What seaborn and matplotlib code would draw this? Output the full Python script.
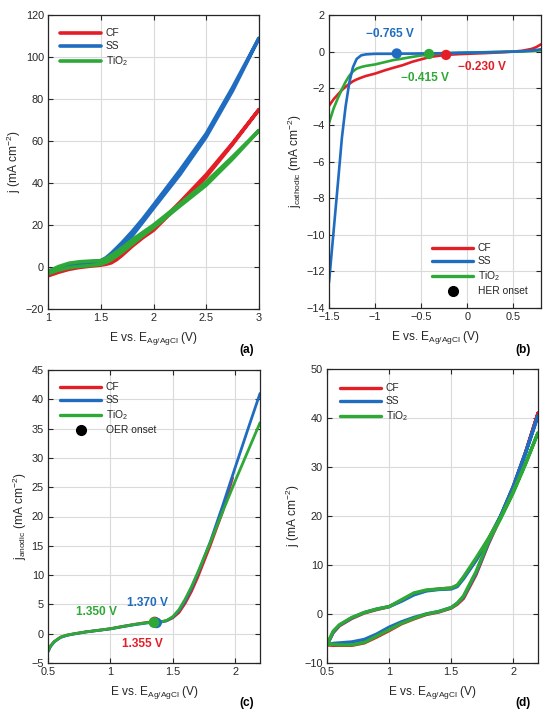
import matplotlib
matplotlib.use("Agg")
import matplotlib.pyplot as plt
import matplotlib.ticker as mticker
from matplotlib.lines import Line2D
import seaborn as sns

# ---------------- data ----------------
series = ["CF", "SS", "TiO$_2$"]
colors = {"CF": "#e31e26", "SS": "#1f6cc0", "TiO2": "#2ea836"}

# (a) CV loops, 1.0 - 3.0 V
xa = [1.0, 1.1, 1.2, 1.3, 1.4, 1.5, 1.55, 1.6, 1.65, 1.7, 1.8, 1.9, 2.0, 2.25, 2.5, 2.75, 3.0]
cf_a_fwd = [-4.2, -2.5, -1.1, -0.2, 0.4, 0.9, 1.3, 2.0, 3.5, 5.5, 10.0, 14.0, 17.5, 30.0, 43.0, 58.5, 75.0]
cf_a_rev = [-3.5, -1.8, -0.4, 0.4, 0.8, 1.3, 2.0, 3.0, 4.6, 6.5, 10.8, 14.8, 18.3, 30.8, 44.0, 59.0, 75.0]
ss_a_fwd = [-2.8, -1.3, 0.0, 0.8, 1.4, 2.2, 3.0, 4.5, 6.6, 9.0, 15.0, 21.5, 28.0, 44.0, 62.0, 84.0, 109.0]
ss_a_rev = [-2.0, -0.3, 1.2, 2.0, 2.5, 3.0, 4.4, 6.5, 9.0, 11.5, 17.0, 23.0, 29.5, 46.0, 63.5, 85.5, 109.0]
ti_a_fwd = [-3.2, -1.5, -0.3, 0.3, 0.7, 1.3, 2.2, 3.5, 5.2, 7.0, 11.0, 15.0, 18.8, 29.0, 39.0, 51.5, 65.0]
ti_a_rev = [-2.2, 0.2, 1.8, 2.5, 2.8, 3.0, 4.0, 5.5, 7.2, 9.0, 13.0, 16.5, 20.0, 30.0, 40.5, 52.5, 65.0]

# (b) cathodic LSV, -1.5 - 0.8 V
xb = [-1.5, -1.45, -1.4, -1.36, -1.32, -1.28, -1.24, -1.2, -1.15, -1.1, -1.0, -0.9, -0.8,
      -0.7, -0.6, -0.5, -0.4, -0.3, -0.2, -0.1, 0.0, 0.2, 0.4, 0.5, 0.6, 0.7, 0.75, 0.8]
cf_b = [-2.96, -2.6, -2.32, -2.1, -1.92, -1.76, -1.62, -1.52, -1.42, -1.33, -1.2, -1.03, -0.88,
        -0.74, -0.56, -0.42, -0.29, -0.22, -0.17, -0.14, -0.12, -0.08, -0.03, 0.0, 0.05, 0.15, 0.25, 0.4]
ss_b = [-12.6, -9.8, -7.0, -4.7, -3.0, -1.7, -0.85, -0.4, -0.2, -0.15, -0.12, -0.12, -0.12,
        -0.11, -0.11, -0.1, -0.1, -0.09, -0.08, -0.07, -0.06, -0.04, -0.01, 0.0, 0.02, 0.06, 0.09, 0.13]
ti_b = [-3.9, -3.1, -2.5, -2.05, -1.65, -1.32, -1.08, -0.93, -0.84, -0.78, -0.7, -0.58, -0.46,
        -0.38, -0.29, -0.21, -0.15, -0.11, -0.08, -0.06, -0.05, -0.03, -0.01, 0.0, 0.01, 0.03, 0.05, 0.07]
her_onset_x = [-0.230, -0.765, -0.415]
her_onset_y = [-0.18, -0.10, -0.13]
her_labels = ["\u22120.230 V", "\u22120.765 V", "\u22120.415 V"]

# (c) anodic LSV, 0.5 - 2.2 V
xc = [0.5, 0.52, 0.55, 0.6, 0.65, 0.7, 0.8, 0.9, 1.0, 1.1, 1.2, 1.3, 1.35, 1.4, 1.45,
      1.5, 1.55, 1.6, 1.65, 1.7, 1.8, 1.9, 2.0, 2.1, 2.2]
ss_c = [-3.1, -2.2, -1.4, -0.65, -0.3, -0.08, 0.28, 0.55, 0.82, 1.2, 1.55, 1.85, 1.9, 1.95, 2.2,
        2.8, 3.9, 5.6, 7.7, 10.2, 15.6, 21.8, 28.3, 34.7, 41.0]
ti_c = [-3.0, -2.1, -1.35, -0.6, -0.25, -0.05, 0.3, 0.57, 0.85, 1.25, 1.6, 1.9, 1.95, 2.0, 2.25,
        2.9, 4.1, 5.9, 8.0, 10.4, 15.5, 20.8, 26.0, 31.0, 36.0]
xc_cf = [0.5, 0.52, 0.55, 0.6, 0.65, 0.7, 0.8, 0.9, 1.0, 1.1, 1.2, 1.3, 1.35, 1.4, 1.45,
         1.5, 1.55, 1.6, 1.65, 1.7, 1.8, 1.9, 1.98]
cf_c = [-3.0, -2.1, -1.35, -0.6, -0.25, -0.05, 0.3, 0.57, 0.85, 1.25, 1.62, 1.95, 2.0, 2.05, 2.2,
        2.7, 3.6, 5.2, 7.2, 9.6, 15.0, 20.8, 26.6]
oer_onset_x = [1.355, 1.370, 1.350]
oer_onset_y = [2.0, 1.85, 1.9]
oer_labels = ["1.355 V", "1.370 V", "1.350 V"]

# (d) CV loops, 0.5 - 2.2 V
xd = [0.5, 0.55, 0.6, 0.7, 0.8, 0.9, 1.0, 1.1, 1.2, 1.3, 1.4, 1.5, 1.55, 1.6, 1.7, 1.8, 1.9, 2.0, 2.1, 2.2]
cf_d_up = [-6.3, -3.8, -2.4, -0.9, 0.2, 0.9, 1.5, 2.8, 4.1, 4.8, 5.1, 5.3, 5.8, 7.4, 11.0, 15.2, 20.0, 26.0, 33.0, 41.0]
ss_d_up = [-6.3, -3.7, -2.3, -0.8, 0.3, 1.0, 1.5, 2.6, 3.9, 4.7, 5.0, 5.1, 5.6, 7.2, 10.9, 15.2, 20.1, 26.0, 33.0, 40.5]
ti_d_up = [-6.2, -3.5, -2.2, -0.7, 0.3, 1.0, 1.5, 2.9, 4.3, 4.9, 5.1, 5.3, 5.9, 7.6, 11.4, 15.4, 19.8, 25.0, 30.8, 37.0]
cf_d_lo = [-6.3, -6.4, -6.4, -6.4, -5.9, -4.7, -3.4, -2.0, -1.0, -0.1, 0.4, 1.2, 2.0, 3.2, 8.0, 14.3, 19.8, 25.8, 33.0, 41.0]
ss_d_lo = [-6.3, -6.0, -5.9, -5.7, -5.2, -4.1, -2.7, -1.6, -0.7, 0.0, 0.5, 1.3, 2.2, 3.5, 8.3, 14.5, 20.0, 25.8, 32.8, 40.5]
ti_d_lo = [-6.2, -6.2, -6.3, -6.3, -5.8, -4.5, -3.2, -1.9, -0.9, 0.0, 0.5, 1.3, 2.2, 3.7, 8.6, 14.8, 19.5, 24.7, 30.6, 37.0]

# ---------------- style ----------------
sns.set_theme(style="ticks")
plt.rcParams["font.family"] = ["Liberation Sans", "DejaVu Sans"]
plt.rcParams["mathtext.fontset"] = "custom"
plt.rcParams["mathtext.rm"] = "Liberation Sans"
plt.rcParams["mathtext.it"] = "Liberation Sans"
plt.rcParams["mathtext.default"] = "regular"
plt.rcParams["axes.unicode_minus"] = True

TICK_FS = 7.8
LAB_FS = 8.6
LEG_FS = 7.4
ANN_FS = 8.6

fig = plt.figure(figsize=(5.5, 7.19), dpi=100)
W, H = 550.0, 719.0


def add_ax(l, t, r, b):
    return fig.add_axes([l / W, 1 - b / H, (r - l) / W, (b - t) / H])


ax_a = add_ax(48, 15, 259, 309)
ax_b = add_ax(329, 15, 541, 308)
ax_c = add_ax(48, 370, 260, 663)
ax_d = add_ax(327, 369, 538, 663)


def fmt(v, pos):
    s = f"{v:g}"
    return s.replace("-", "\u2212")


def style(ax, xlim, xticks, ylim, yticks, ylabel):
    ax.set_xlim(*xlim)
    ax.set_ylim(*ylim)
    ax.set_xticks(xticks)
    ax.set_yticks(yticks)
    ax.xaxis.set_major_formatter(mticker.FuncFormatter(fmt))
    ax.yaxis.set_major_formatter(mticker.FuncFormatter(fmt))
    ax.grid(True, color="#dadada", lw=0.8)
    ax.set_axisbelow(True)
    ax.tick_params(direction="in", top=True, right=True, length=3.5, width=0.8,
                   labelsize=TICK_FS, colors="#262626", pad=3)
    for sp in ax.spines.values():
        sp.set_visible(True)
        sp.set_color("#262626")
        sp.set_linewidth(0.9)
    ax.set_xlabel(r"E vs. E$_{Ag/AgCl}$ (V)", fontsize=LAB_FS, color="#262626", labelpad=5)
    ax.set_ylabel(ylabel, fontsize=LAB_FS, color="#262626", labelpad=2)


def loop(ax, x, fwd, rev, color, lw):
    xs = list(x) + list(x)[::-1]
    ys = list(fwd) + list(rev)[::-1]
    sns.lineplot(x=xs, y=ys, sort=False, estimator=None, color=color, lw=lw, ax=ax, legend=False)


def leg(ax, lw, loc, anchor, extra=None):
    hs = [Line2D([], [], color=colors["CF"], lw=lw),
          Line2D([], [], color=colors["SS"], lw=lw),
          Line2D([], [], color=colors["TiO2"], lw=lw)]
    labs = list(series)
    if extra is not None:
        hs.append(Line2D([], [], color="black", ls="none", marker="o", ms=7))
        labs.append(extra)
    ax.legend(hs, labs, loc=loc, bbox_to_anchor=anchor, frameon=False, fontsize=LEG_FS,
              handlelength=4.0, handletextpad=0.45, labelspacing=0.3, borderpad=0,
              borderaxespad=0)


# (a)
lw_a = 2.6
loop(ax_a, xa, cf_a_fwd, cf_a_rev, colors["CF"], lw_a)
loop(ax_a, xa, ss_a_fwd, ss_a_rev, colors["SS"], lw_a)
loop(ax_a, xa, ti_a_fwd, ti_a_rev, colors["TiO2"], lw_a)
style(ax_a, (1, 3), [1, 1.5, 2, 2.5, 3], (-20, 120), list(range(-20, 121, 20)),
      r"j (mA cm$^{-2}$)")
leg(ax_a, lw_a, "upper left", (0.057, 0.955))

# (b)
lw_b = 1.9
sns.lineplot(x=xb, y=cf_b, sort=False, estimator=None, color=colors["CF"], lw=lw_b, ax=ax_b)
sns.lineplot(x=xb, y=ti_b, sort=False, estimator=None, color=colors["TiO2"], lw=lw_b, ax=ax_b)
sns.lineplot(x=xb, y=ss_b, sort=False, estimator=None, color=colors["SS"], lw=lw_b, ax=ax_b)
b_cols = [colors["CF"], colors["SS"], colors["TiO2"]]
sns.scatterplot(x=her_onset_x, y=her_onset_y, hue=her_labels, palette=b_cols, s=55,
                edgecolor="none", ax=ax_b, legend=False, zorder=5)
b_txt_pos = [(0.16, -0.84), (-0.84, 0.96), (-0.46, -1.44)]
for (tx, ty), lab, c in zip(b_txt_pos, her_labels, b_cols):
    ax_b.text(tx, ty, lab, color=c, fontsize=ANN_FS, fontweight="bold", ha="center", va="center")
style(ax_b, (-1.5, 0.8), [-1.5, -1, -0.5, 0, 0.5], (-14, 2), list(range(-14, 3, 2)),
      r"j$_{cathodic}$ (mA cm$^{-2}$)")
leg(ax_b, 2.4, "lower left", (0.486, 0.04), extra="HER onset")

# (c)
lw_c = 2.0
sns.lineplot(x=xc_cf, y=cf_c, sort=False, estimator=None, color=colors["CF"], lw=lw_c, ax=ax_c)
sns.lineplot(x=xc, y=ss_c, sort=False, estimator=None, color=colors["SS"], lw=lw_c, ax=ax_c)
sns.lineplot(x=xc, y=ti_c, sort=False, estimator=None, color=colors["TiO2"], lw=lw_c, ax=ax_c)
sns.scatterplot(x=oer_onset_x, y=oer_onset_y, hue=oer_labels, palette=b_cols, s=60,
                edgecolor="none", ax=ax_c, legend=False, zorder=5)
c_txt_pos = [(1.26, -1.8), (1.30, 5.2), (0.89, 3.7)]
for (tx, ty), lab, c in zip(c_txt_pos, oer_labels, b_cols):
    ax_c.text(tx, ty, lab, color=c, fontsize=ANN_FS, fontweight="bold", ha="center", va="center")
style(ax_c, (0.5, 2.2), [0.5, 1, 1.5, 2], (-5, 45), list(range(-5, 46, 5)),
      r"j$_{anodic}$ (mA cm$^{-2}$)")
leg(ax_c, 2.4, "upper left", (0.057, 0.958), extra="OER onset")

# (d)
lw_d = 2.4
loop(ax_d, xd, cf_d_up, cf_d_lo, colors["CF"], lw_d)
loop(ax_d, xd, ss_d_up, ss_d_lo, colors["SS"], lw_d)
loop(ax_d, xd, ti_d_up, ti_d_lo, colors["TiO2"], lw_d)
style(ax_d, (0.5, 2.2), [0.5, 1, 1.5, 2], (-10, 50), list(range(-10, 51, 10)),
      r"j (mA cm$^{-2}$)")
leg(ax_d, lw_d, "upper left", (0.062, 0.952))

# panel letters
for (px, py), lab in zip([(247, 350), (523, 350), (247, 703), (523, 703)],
                         ["(a)", "(b)", "(c)", "(d)"]):
    fig.text(px / W, 1 - py / H, lab, fontsize=ANN_FS, fontweight="bold",
             ha="center", va="center", color="black")

fig.savefig("out.png", dpi=100)
